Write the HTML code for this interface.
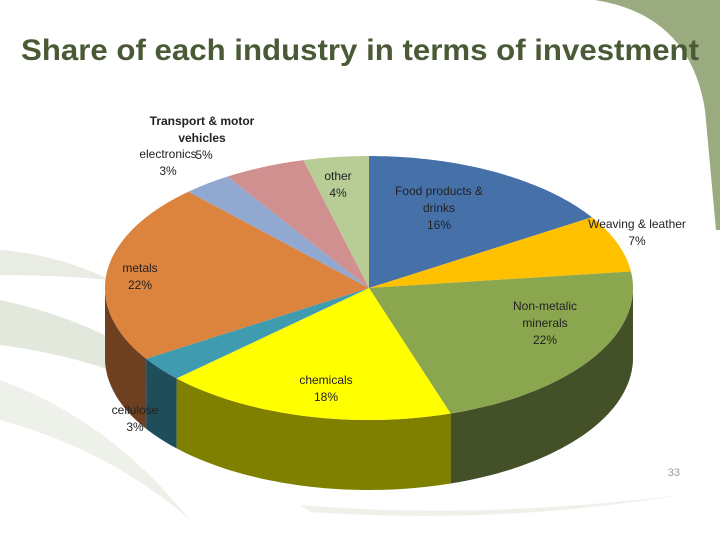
<!DOCTYPE html>
<html><head><meta charset="utf-8"><style>
html,body{margin:0;padding:0;background:#fff;}
svg{display:block;font-family:"Liberation Sans",sans-serif;}
</style></head><body>
<svg id="chart" width="720" height="540" viewBox="0 0 720 540">
  <g>
    <path d="M595,0 Q690,15 705,110 L716,230 L720,230 L720,0 Z" fill="#9aab80"/>
    <path d="M0,300 Q140,330 215,420 Q120,360 0,345 Z" fill="#e3e8dd"/>
    <path d="M0,380 Q110,420 190,520 Q110,450 0,420 Z" fill="#eef1ea"/>
    <path d="M0,250 Q60,255 110,280 Q60,275 0,275 Z" fill="#e8ece3"/>
    <path d="M300,505 Q480,520 680,495 Q500,525 310,512 Z" fill="#eef0ea"/>
  </g>
  <text x="360" y="60" text-anchor="middle" font-size="30" font-weight="bold" fill="#4b5a36" textLength="678" lengthAdjust="spacingAndGlyphs">Share of each industry in terms of investment</text>
  <g id="pie"></g>
  <g id="labels"></g>
  <text x="680" y="476" text-anchor="end" font-size="11" fill="#999">33</text>
</svg>
<script>
const categories = ["Food products & drinks","Weaving & leather","Non-metalic minerals","chemicals","cellulose","metals","electronics","Transport & motor vehicles","other"];
const values = [16,7,22,18,3,22,3,5,4];
const topColors = ["#4570a8","#ffc000","#8aa64e","#ffff00","#3f9bb0","#dc843e","#91a8d0","#d09090","#b8cc96"];
const sideColors = ["#2c4a72","#b08400","#435028","#808000","#1f4e5a","#6e4020","#5a6f90","#8a5a5a","#7a8a60"];
const cx=369, cy=288, rx=264, ry=132, depth=70;
const NS="http://www.w3.org/2000/svg";
const pie=document.getElementById('pie');
const total=values.reduce((a,b)=>a+b,0);
function pt(t,dy){return [cx+rx*Math.sin(t), cy-ry*Math.cos(t)+(dy||0)];}
let angles=[];let acc=0;
values.forEach(v=>{const a0=acc/total*2*Math.PI;acc+=v;angles.push([a0,acc/total*2*Math.PI]);});
angles.forEach(([a0,a1],i)=>{
  const s=Math.max(a0,Math.PI/2), e=Math.min(a1,3*Math.PI/2);
  if(e<=s) return;
  let d="";const n=40;
  for(let k=0;k<=n;k++){const t=s+(e-s)*k/n;const p=pt(t);d+=(k?"L":"M")+p[0].toFixed(1)+","+p[1].toFixed(1);}
  for(let k=n;k>=0;k--){const t=s+(e-s)*k/n;const p=pt(t,depth);d+="L"+p[0].toFixed(1)+","+p[1].toFixed(1);}
  d+="Z";
  const el=document.createElementNS(NS,'path');
  el.setAttribute('d',d);el.setAttribute('fill',sideColors[i]);
  
  
  pie.appendChild(el);
});
angles.forEach(([a0,a1],i)=>{
  let d="M"+cx+","+cy;const n=60;
  for(let k=0;k<=n;k++){const t=a0+(a1-a0)*k/n;const p=pt(t);d+="L"+p[0].toFixed(1)+","+p[1].toFixed(1);}
  d+="Z";
  const el=document.createElementNS(NS,'path');
  el.setAttribute('d',d);el.setAttribute('fill',topColors[i]);
  
  
  pie.appendChild(el);
});
const labelLines=[["Food products &","drinks"],["Weaving & leather"],["Non-metalic","minerals"],["chemicals"],["cellulose"],["metals"],["electronics"],["Transport & motor","vehicles"],["other"]];
const labelPos=[[439,195],[637,228],[545,310],[326,384],[135,414],[140,272],[168,158],[202,125],[338,180]];
const lg=document.getElementById('labels');
labelLines.forEach((lines,i)=>{
  const t=document.createElementNS(NS,'text');
  t.setAttribute('text-anchor','middle');t.setAttribute('font-size','12');
  t.setAttribute('fill','#222');
  if(i===7) t.setAttribute('font-weight','bold');
  
  
  const all=lines.concat(i===7?[]:[values[i]+"%"]);
  all.forEach((s,k)=>{const sp=document.createElementNS(NS,'tspan');sp.setAttribute('x',labelPos[i][0]);sp.setAttribute('y',labelPos[i][1]+k*17);sp.textContent=s;t.appendChild(sp);});
  lg.appendChild(t);
  if(i===7){const p=document.createElementNS(NS,'text');p.setAttribute('x',204);p.setAttribute('y',159);p.setAttribute('font-size','12');p.setAttribute('text-anchor','middle');p.setAttribute('fill','#222');
    
    
    p.textContent=values[i]+"%";lg.appendChild(p);}
});
</script>
</body></html>
